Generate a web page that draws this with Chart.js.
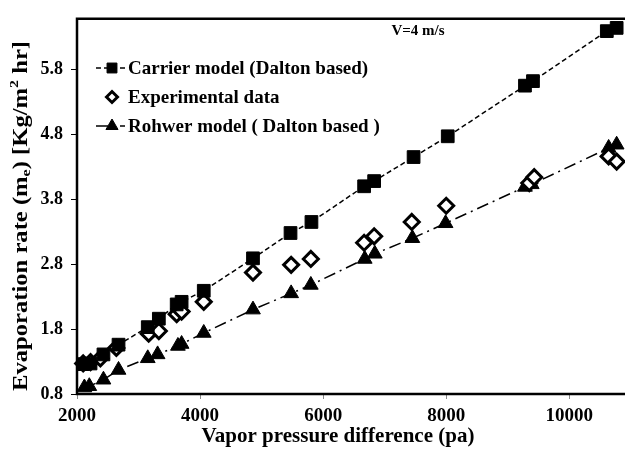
<!DOCTYPE html>
<html>
<head>
<meta charset="utf-8">
<script src="https://cdn.jsdelivr.net/npm/chart.js@4.4.0/dist/chart.umd.min.js"></script>
<style>
  html, body { margin: 0; padding: 0; background: #fff; overflow: hidden; }
  #outer { width: 625px; height: 461px; overflow: hidden; }
  #wrap { width: 637px; height: 461px; position: relative; }
</style>
</head>
<body>
<div id="outer"><div id="wrap"><canvas id="evapChart"></canvas></div></div>
<script>
// axis ticks
const xTicks = [2000, 4000, 6000, 8000, 10000];
const yTicks = [0.8, 1.8, 2.8, 3.8, 4.8, 5.8];

// Carrier model (Dalton based)
const carrierX = [2100, 2220, 2430, 2675, 3150, 3330, 3620, 3700, 4060, 4860, 5470, 5810, 6666, 6829, 7470, 8025, 9280, 9410, 10610, 10770];
const carrierY = [1.26, 1.27, 1.41, 1.56, 1.83, 1.96, 2.18, 2.22, 2.39, 2.89, 3.28, 3.45, 4.00, 4.08, 4.45, 4.77, 5.55, 5.62, 6.39, 6.44];

// Experimental data
const expX = [2100, 2220, 2380, 2640, 3165, 3330, 3620, 3700, 4060, 4860, 5480, 5800, 6666, 6829, 7440, 8000, 9350, 9430, 10640, 10770];
const expY = [1.27, 1.29, 1.35, 1.51, 1.73, 1.77, 2.03, 2.07, 2.22, 2.67, 2.79, 2.88, 3.13, 3.23, 3.45, 3.70, 4.05, 4.14, 4.46, 4.38];

// Rohwer model (Dalton based)
const rohwerX = [2120, 2200, 2430, 2675, 3150, 3310, 3640, 3700, 4060, 4860, 5480, 5800, 6676, 6840, 7450, 7990, 9280, 9390, 10640, 10770];
const rohwerY = [0.90, 0.92, 1.02, 1.17, 1.35, 1.41, 1.54, 1.57, 1.74, 2.10, 2.35, 2.48, 2.88, 2.96, 3.20, 3.43, 3.99, 4.03, 4.59, 4.64];

const serif = '"Liberation Serif", "Times New Roman", serif';

function toPoints(xs, ys) {
    return xs.map((x, i) => ({ x: x, y: ys[i] }));
}

// frame, axis titles and the in-plot legend
const decorations = {
    id: 'decorations',
    beforeDatasetsDraw(chart) {
        const { ctx, chartArea: a } = chart;
        ctx.save();
        ctx.strokeStyle = '#000';
        ctx.lineWidth = 2.5;
        ctx.beginPath();
        ctx.moveTo(a.right + 4, a.top);
        ctx.lineTo(a.left, a.top);
        ctx.lineTo(a.left, a.bottom);
        ctx.lineTo(a.right + 4, a.bottom);
        ctx.stroke();
        ctx.restore();
    },
    afterDraw(chart) {
        const { ctx } = chart;
        ctx.save();
        ctx.fillStyle = '#000';

        // x title
        ctx.font = 'bold 21px ' + serif;
        ctx.textAlign = 'center';
        ctx.textBaseline = 'middle';
        ctx.fillText('Vapor pressure difference (pa)', 338, 437);

        // y title with subscript and superscript, stretched along its length
        ctx.translate(22, 216);
        ctx.rotate(-Math.PI / 2);
        const parts = [
            ['Evaporation rate (m', 20, 0],
            ['e', 13, 5],
            [') [Kg/m', 20, 0],
            ['2', 13, -7],
            [' hr]', 20, 0]
        ];
        let total = 0;
        parts.forEach(p => { ctx.font = 'bold ' + p[1] + 'px ' + serif; total += ctx.measureText(p[0]).width; });
        ctx.scale(350 / total, 1);
        let pos = -total / 2;
        ctx.textAlign = 'left';
        parts.forEach(p => {
            ctx.font = 'bold ' + p[1] + 'px ' + serif;
            ctx.fillText(p[0], pos, p[2]);
            pos += ctx.measureText(p[0]).width;
        });
        ctx.setTransform(1, 0, 0, 1, 0, 0);

        // speed note
        ctx.font = 'bold 15px ' + serif;
        ctx.textAlign = 'center';
        ctx.fillText('V=4 m/s', 418, 31);

        // legend
        const rows = [68, 97, 126];
        chart.data.datasets.forEach((ds, i) => {
            const y = rows[i];
            ctx.strokeStyle = '#000';
            ctx.fillStyle = '#000';
            ctx.lineWidth = 1.5;
            if (ds.showLine) {
                ctx.setLineDash(ds.borderDash);
                ctx.beginPath();
                ctx.moveTo(96, y);
                ctx.lineTo(125, y);
                ctx.stroke();
                ctx.setLineDash([]);
            }
            ctx.fillStyle = ds.pointBackgroundColor;
            ctx.lineWidth = ds.pointBorderWidth;
            Chart.helpers.drawPoint(ctx, {
                pointStyle: ds.pointStyle,
                radius: ds.legendRadius,
                rotation: 0,
                borderWidth: ds.pointBorderWidth
            }, 112, y);
            ctx.fillStyle = '#000';
            ctx.font = 'bold 19px ' + serif;
            ctx.textAlign = 'left';
            ctx.fillText(ds.label, 128, y + 1);
        });
        ctx.restore();
    }
};

const chart = new Chart(document.getElementById('evapChart'), {
    type: 'scatter',
    data: {
        datasets: [
            {
                label: 'Carrier model (Dalton based)',
                data: toPoints(carrierX, carrierY),
                showLine: true,
                borderColor: '#000',
                borderWidth: 1.5,
                borderDash: [5, 3],
                pointStyle: 'rect',
                pointRadius: 9,
                legendRadius: 7,
                pointBackgroundColor: '#000',
                pointBorderColor: '#000',
                pointBorderWidth: 1,
                clip: false
            },
            {
                label: 'Experimental data',
                data: toPoints(expX, expY),
                showLine: false,
                pointStyle: 'rectRot',
                pointRadius: 7.5,
                legendRadius: 5.5,
                pointBackgroundColor: '#fff',
                pointBorderColor: '#000',
                pointBorderWidth: 3,
                clip: false
            },
            {
                label: 'Rohwer model ( Dalton based )',
                data: toPoints(rohwerX, rohwerY),
                showLine: true,
                borderColor: '#000',
                borderWidth: 1.5,
                borderDash: [12, 5, 2, 5],
                pointStyle: 'triangle',
                pointRadius: 8.5,
                legendRadius: 7,
                pointBackgroundColor: '#000',
                pointBorderColor: '#000',
                pointBorderWidth: 1,
                clip: false
            }
        ]
    },
    options: {
        responsive: true,
        maintainAspectRatio: false,
        animation: false,
        layout: { padding: { top: 12, right: 0, left: 0, bottom: 0 } },
        plugins: {
            legend: { display: false },
            tooltip: { enabled: false }
        },
        scales: {
            x: {
                type: 'linear',
                min: 2000,
                max: 10930,
                afterFit: s => { s.height = 67; },
                afterBuildTicks: s => { s.ticks = xTicks.map(v => ({ value: v })); },
                ticks: {
                    color: '#000',
                    padding: 6,
                    maxRotation: 0,
                    font: { family: serif, size: 19, weight: 'bold' },
                    callback: v => String(v)
                },
                grid: { drawOnChartArea: false, tickLength: 5, color: '#888', lineWidth: 1 },
                border: { display: false }
            },
            y: {
                min: 0.8,
                max: 6.58,
                afterFit: s => { s.width = 77; },
                afterBuildTicks: s => { s.ticks = yTicks.map(v => ({ value: v })); },
                ticks: {
                    color: '#000',
                    padding: 8,
                    font: { family: serif, size: 18, weight: 'bold' },
                    callback: v => v.toFixed(1)
                },
                grid: { drawOnChartArea: false, tickLength: 6, color: '#000', lineWidth: 1 },
                border: { display: false }
            }
        }
    },
    plugins: [decorations]
});
</script>
</body>
</html>
